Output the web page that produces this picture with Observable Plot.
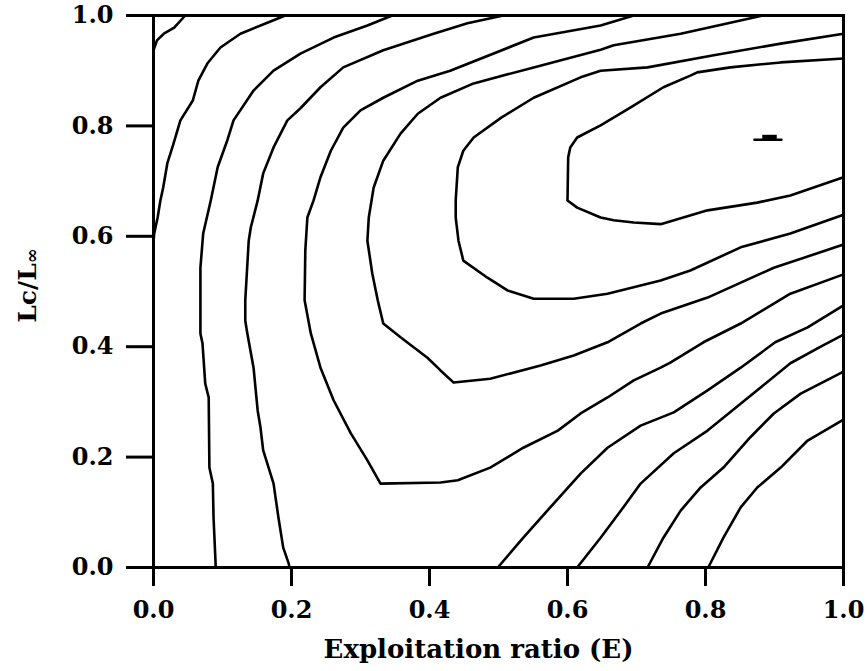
<!DOCTYPE html>
<html>
<head>
<meta charset="utf-8">
<script src="https://cdn.jsdelivr.net/npm/d3@7"></script>
<script src="https://cdn.jsdelivr.net/npm/@observablehq/plot@0.6"></script>
<style>
  html, body { margin: 0; padding: 0; background: #fff; }
</style>
</head>
<body>
<div id="chart"></div>
<script>
// ---- Axis ticks ----
const xTicks = [0, 0.2, 0.4, 0.6, 0.8, 1.0];
const yTicks = [0, 0.2, 0.4, 0.6, 0.8, 1.0];
const xTitle = "Exploitation ratio (E)";
const yTitle = "Lc/L∞";

// ---- Isopleth lines, [E, Lc/L∞] ----
// innermost contour around the maximum
const contour1 = [[1.0,0.922],[0.909,0.915],[0.836,0.906],[0.788,0.897],[0.778,0.891],[0.739,0.870],[0.691,0.833],[0.648,0.801],[0.614,0.779],[0.604,0.761],[0.601,0.743],[0.600,0.665],[0.614,0.652],[0.648,0.634],[0.667,0.629],[0.696,0.625],[0.735,0.622],[0.803,0.647],[0.875,0.661],[0.923,0.674],[1.0,0.707]];
const contour2 = [[1.0,0.967],[0.909,0.949],[0.812,0.928],[0.716,0.906],[0.648,0.900],[0.619,0.888],[0.551,0.851],[0.504,0.815],[0.464,0.779],[0.449,0.755],[0.441,0.725],[0.438,0.665],[0.438,0.634],[0.442,0.592],[0.449,0.556],[0.484,0.525],[0.513,0.502],[0.551,0.487],[0.609,0.487],[0.658,0.496],[0.706,0.511],[0.735,0.520],[0.778,0.538],[0.851,0.580],[0.923,0.605],[1.0,0.639]];
const contour3 = [[0.883,1.0],[0.836,0.987],[0.764,0.967],[0.667,0.946],[0.648,0.938],[0.551,0.906],[0.464,0.877],[0.416,0.851],[0.383,0.822],[0.358,0.786],[0.333,0.737],[0.319,0.688],[0.312,0.634],[0.310,0.592],[0.317,0.533],[0.325,0.484],[0.333,0.442],[0.358,0.417],[0.397,0.380],[0.416,0.357],[0.435,0.335],[0.488,0.342],[0.561,0.366],[0.609,0.384],[0.658,0.408],[0.706,0.442],[0.735,0.460],[0.803,0.489],[0.899,0.543],[1.0,0.585]];
const contour4 = [[0.696,1.0],[0.648,0.982],[0.551,0.960],[0.430,0.900],[0.383,0.882],[0.333,0.851],[0.300,0.828],[0.275,0.797],[0.257,0.755],[0.242,0.707],[0.232,0.665],[0.223,0.634],[0.220,0.574],[0.219,0.484],[0.228,0.424],[0.242,0.362],[0.261,0.303],[0.286,0.243],[0.310,0.194],[0.329,0.152],[0.416,0.154],[0.441,0.158],[0.488,0.181],[0.536,0.217],[0.586,0.248],[0.619,0.279],[0.658,0.308],[0.696,0.339],[0.735,0.362],[0.749,0.371],[0.797,0.408],[0.851,0.442],[0.923,0.496],[1.0,0.531]];
// left-hand (low E) contours
const contour5 = [[0.507,1.0],[0.455,0.986],[0.406,0.967],[0.333,0.937],[0.275,0.906],[0.242,0.870],[0.213,0.832],[0.194,0.810],[0.174,0.761],[0.159,0.714],[0.151,0.665],[0.141,0.616],[0.138,0.592],[0.133,0.484],[0.133,0.447],[0.136,0.424],[0.145,0.362],[0.151,0.284],[0.155,0.254],[0.159,0.212],[0.174,0.152],[0.181,0.091],[0.188,0.036],[0.196,0.007],[0.197,0.0]];
const contour6 = [[0.346,1.0],[0.310,0.982],[0.261,0.960],[0.213,0.931],[0.174,0.900],[0.145,0.864],[0.116,0.810],[0.107,0.774],[0.093,0.725],[0.083,0.665],[0.072,0.605],[0.068,0.543],[0.068,0.484],[0.068,0.424],[0.071,0.406],[0.075,0.333],[0.080,0.308],[0.081,0.181],[0.086,0.152],[0.087,0.091],[0.090,0.007],[0.090,0.0]];
const contour7 = [[0.191,1.0],[0.165,0.987],[0.126,0.967],[0.097,0.942],[0.078,0.913],[0.065,0.882],[0.057,0.846],[0.039,0.810],[0.029,0.768],[0.020,0.732],[0.014,0.688],[0.010,0.665],[0.006,0.634],[0.001,0.605],[0.0,0.59]];
const contour8 = [[0.0,0.937],[0.005,0.955],[0.015,0.967],[0.03,0.978],[0.046,1.0]];
// lower-right (high E, low Lc) contours
const contour5b = [[0.499,0.0],[0.536,0.054],[0.575,0.109],[0.619,0.170],[0.658,0.217],[0.706,0.257],[0.754,0.281],[0.803,0.321],[0.851,0.362],[0.901,0.408],[0.948,0.435],[1.0,0.475]];
const contour6b = [[0.614,0.0],[0.648,0.054],[0.681,0.109],[0.706,0.152],[0.754,0.207],[0.803,0.248],[0.875,0.321],[0.923,0.370],[0.967,0.400],[1.0,0.422]];
const contour7b = [[0.716,0.0],[0.739,0.054],[0.764,0.103],[0.793,0.145],[0.826,0.181],[0.865,0.236],[0.899,0.279],[0.938,0.315],[1.0,0.355]];
const contour8b = [[0.804,0.0],[0.826,0.054],[0.851,0.109],[0.875,0.145],[0.909,0.181],[0.948,0.230],[1.0,0.268]];

// maximum-yield marker
const peakDash = [[0.871,0.775],[0.910,0.775]];
const peakBump = [[0.883,0.904,0.775,0.783]];

const contours = {contour1, contour2, contour3, contour4, contour5, contour6, contour7, contour8,
                  contour5b, contour6b, contour7b, contour8b};
const rows = Object.entries(contours).flatMap(([name, pts]) =>
  pts.map(([E, Lc]) => ({name, E, Lc})));

const font = "DejaVu Serif";

const plot = Plot.plot({
  width: 868,
  height: 671,
  marginLeft: 153,
  marginRight: 25,
  marginTop: 15,
  marginBottom: 104,
  style: {fontFamily: font, fontWeight: "bold", fontSize: "24px", color: "black", background: "white"},
  x: {domain: [0, 1], label: null},
  y: {domain: [0, 1], label: null},
  marks: [
    Plot.line(rows, {x: "E", y: "Lc", z: "name", stroke: "black", strokeWidth: 2.6, strokeLinejoin: "round"}),
    Plot.line(peakDash, {x: d => d[0], y: d => d[1], stroke: "black", strokeWidth: 2.6}),
    Plot.rect(peakBump, {x1: d => d[0], x2: d => d[1], y1: d => d[2], y2: d => d[3], fill: "black"}),
    Plot.frame({stroke: "black", strokeWidth: 3}),
    Plot.axisX({ticks: xTicks, tickFormat: d => d.toFixed(1), tickSize: 19, tickPadding: 14, strokeWidth: 3, label: null}),
    Plot.axisY({ticks: yTicks, tickFormat: d => d.toFixed(1), tickSize: 27, tickPadding: 13, strokeWidth: 3, label: null}),
    Plot.text([xTitle], {frameAnchor: "bottom", dy: 90, dx: -20, text: d => d, textAnchor: "middle", fontSize: 26, fontWeight: "bold", fontFamily: font}),
    Plot.text([yTitle], {frameAnchor: "left", dx: -126, dy: -6, rotate: -90, text: d => d, textAnchor: "middle", fontSize: 25, fontWeight: "bold", fontFamily: font})
  ]
});

// make the infinity sign a smaller subscript in the y title
d3.select(plot).selectAll("text").filter(function() { return this.textContent === yTitle; })
  .each(function() {
    const t = d3.select(this);
    t.text(null);
    t.append("tspan").text("Lc/L");
    t.append("tspan").attr("font-size", 18).attr("dy", "0.12em").text("∞");
  });

document.getElementById("chart").appendChild(plot);
</script>
</body>
</html>
